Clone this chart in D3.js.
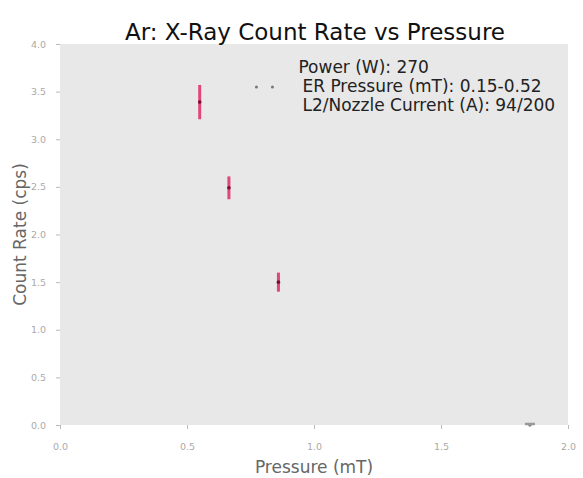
<!DOCTYPE html>
<html>
<head>
<meta charset="utf-8">
<script src="https://d3js.org/d3.v7.min.js"></script>
<style>
  body { margin: 0; background: #fff; }
  .tick text { font: 9.5px "DejaVu Sans", sans-serif; fill: #aaa; }
  .tick line { stroke: #bbb; }
  .domain { display: none; }
  .lbl { font: 17px "DejaVu Sans", sans-serif; fill: #666; }
</style>
</head>
<body>
<svg id="chart" width="583" height="478"></svg>
<script>
// measured points
var pressure = [0.55, 0.665, 0.86, 1.85];
var countRate = [3.39, 2.49, 1.50, 0.0];
var rateErr = [0.18, 0.12, 0.10, 0.0];
var xTicks = [0.0, 0.5, 1.0, 1.5, 2.0];
var yTicks = [0.0, 0.5, 1.0, 1.5, 2.0, 2.5, 3.0, 3.5, 4.0];
var legendLines = ["Power (W): 270", "ER Pressure (mT): 0.15-0.52", "L2/Nozzle Current (A): 94/200"];

var margin = {top: 44, right: 15, bottom: 53, left: 60},
    width = 583 - margin.left - margin.right,
    height = 478 - margin.top - margin.bottom;

var svg = d3.select("#chart");
var g = svg.append("g")
    .attr("transform", "translate(" + margin.left + "," + margin.top + ")");

var x = d3.scaleLinear().domain([0, 2]).range([0, width]);
var y = d3.scaleLinear().domain([0, 4]).range([height, 0]);

g.append("rect")
    .attr("width", width)
    .attr("height", height)
    .attr("fill", "#e8e8e8");

g.append("g")
    .attr("transform", "translate(0," + height + ")")
    .call(d3.axisBottom(x).tickValues(xTicks).tickFormat(d3.format(".1f")).tickSize(4).tickPadding(14));

g.append("g")
    .call(d3.axisLeft(y).tickValues(yTicks).tickFormat(d3.format(".1f")).tickSize(4).tickPadding(10));

// error bars
var pts = pressure.map(function(p, i) { return {x: p, y: countRate[i], e: rateErr[i]}; });

g.selectAll(".err")
    .data(pts.filter(function(d) { return d.e > 0; }))
    .enter().append("line")
    .attr("class", "err")
    .attr("x1", function(d) { return x(d.x); })
    .attr("x2", function(d) { return x(d.x); })
    .attr("y1", function(d) { return y(d.y - d.e); })
    .attr("y2", function(d) { return y(d.y + d.e); })
    .attr("stroke", "#e0457b")
    .attr("stroke-width", 3);

g.selectAll(".pt")
    .data(pts)
    .enter().append("circle")
    .attr("class", "pt")
    .attr("cx", function(d) { return x(d.x); })
    .attr("cy", function(d) { return y(d.y); })
    .attr("r", 1.8)
    .attr("fill", function(d) { return d.e > 0 ? "#7a1030" : "#888"; });

g.selectAll(".flat")
    .data(pts.filter(function(d) { return d.e === 0; }))
    .enter().append("line")
    .attr("x1", function(d) { return x(d.x) - 5; })
    .attr("x2", function(d) { return x(d.x) + 5; })
    .attr("y1", function(d) { return y(d.y) - 1; })
    .attr("y2", function(d) { return y(d.y) - 1; })
    .attr("stroke", "#999")
    .attr("stroke-width", 2.5);

// legend
var leg = g.append("g").attr("transform", "translate(" + (x(0.86) + 20) + ",0)");
leg.selectAll("text")
    .data(legendLines)
    .enter().append("text")
    .attr("x", function(d, i) { return i === 0 ? 0 : 4; })
    .attr("y", function(d, i) { return 29 + i * 19; })
    .style("font", "17px 'DejaVu Sans', sans-serif")
    .style("fill", "#222")
    .text(function(d) { return d; });
leg.selectAll("circle")
    .data([-42, -26])
    .enter().append("circle")
    .attr("cx", function(d) { return d; })
    .attr("cy", 43)
    .attr("r", 1.5)
    .attr("fill", "#777");

svg.append("text")
    .attr("x", 315)
    .attr("y", 40)
    .attr("text-anchor", "middle")
    .style("font", "23px 'DejaVu Sans', sans-serif")
    .style("fill", "#111")
    .text("Ar: X-Ray Count Rate vs Pressure");

svg.append("text")
    .attr("class", "lbl")
    .attr("x", margin.left + width / 2)
    .attr("y", 473)
    .attr("text-anchor", "middle")
    .text("Pressure (mT)");

svg.append("text")
    .attr("class", "lbl")
    .attr("transform", "translate(26," + (margin.top + height / 2) + ")rotate(-90)")
    .attr("text-anchor", "middle")
    .text("Count Rate (cps)");
</script>
</body>
</html>
